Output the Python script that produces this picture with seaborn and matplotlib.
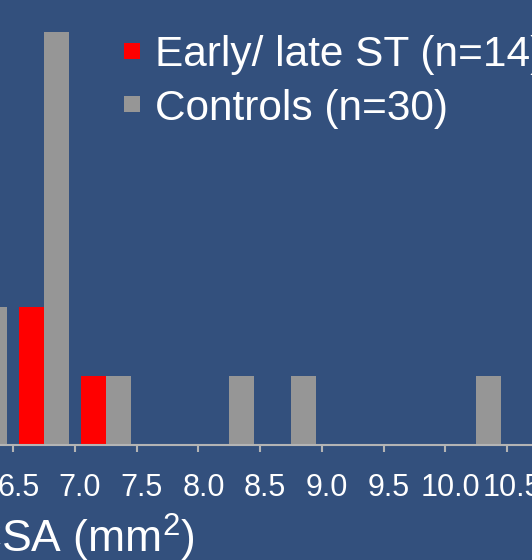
import matplotlib
matplotlib.use('Agg')
import matplotlib.pyplot as plt
from matplotlib.transforms import ScaledTranslation
import pandas as pd
import seaborn as sns

# ==============================================================================
# DADOS (histograma de CSA, bins de 0.5 mm2)
# ==============================================================================
bin_start = [6.0, 6.5, 7.0, 7.5, 8.0, 8.5, 9.0, 9.5, 10.0]
early_late_counts = [0, 2, 1, 0, 0, 0, 0, 0, 0]
control_counts = [2, 6, 1, 0, 1, 1, 0, 0, 1]
group_names = ['Early/ late ST (n=14)', 'Controls (n=30)']
tick_values = [6.0, 6.5, 7.0, 7.5, 8.0, 8.5, 9.0, 9.5, 10.0, 10.5, 11.0]
tick_labels = ['6.0', '6.5', '7.0', '7.5', '8.0', '8.5', '9.0', '9.5', '10.0', '10.5', '11.0']

BG = '#33507d'
AXIS_GREY = '#b4b4b4'


def main():
    sns.set_theme(style='white')
    plt.rcParams['font.family'] = ['Liberation Sans', 'DejaVu Sans']
    plt.rcParams['mathtext.default'] = 'regular'

    # tabela longa para o seaborn
    rows = []
    for start, e, c in zip(bin_start, early_late_counts, control_counts):
        rows.append({'csa': start + 0.25, 'count': e, 'group': group_names[0]})
        rows.append({'csa': start + 0.25, 'count': c, 'group': group_names[1]})
    df = pd.DataFrame(rows)

    fig = plt.figure(figsize=(5.32, 5.60), dpi=100)
    fig.patch.set_facecolor(BG)
    ax = fig.add_axes([0, 115 / 560, 1, 445 / 560])
    ax.set_facecolor(BG)

    sns.barplot(data=df, x='csa', y='count', hue='group', hue_order=group_names,
                palette=['#ff0000', '#969696'], native_scale=True, dodge=True,
                width=0.81, errorbar=None, linewidth=0, saturation=1, ax=ax)

    # eixos
    for side in ['left', 'top', 'right']:
        ax.spines[side].set_visible(False)
    ax.spines['bottom'].set_color(AXIS_GREY)
    ax.spines['bottom'].set_linewidth(1.5)
    ax.set_yticks([])
    ax.set_xticks(tick_values, tick_labels)
    ax.tick_params(axis='x', bottom=True, direction='out', length=5, width=1.5,
                   color=AXIS_GREY, labelcolor='white', labelsize=22, pad=15)
    offset = ScaledTranslation(5 / 100, 0, fig.dpi_scale_trans)
    for lab in ax.get_xticklabels():
        lab.set_transform(lab.get_transform() + offset)

    # recorte igual ao da imagem original
    ax.set_xlim(6.392, 10.703)
    ax.set_ylim(0, 6.47)

    ax.set_ylabel('')
    ax.set_xlabel('CSA (mm$^2$)', fontsize=32, color='white')
    ax.xaxis.label.set_horizontalalignment('right')
    ax.xaxis.label.set_verticalalignment('baseline')
    ax.xaxis.set_label_coords(195 / 532, -108 / 445)

    # legenda
    sns.move_legend(ax, 'upper left', bbox_to_anchor=(124 / 532, 1 - 35 / 445),
                    frameon=False, title=None, fontsize=30.5, handlelength=0.378,
                    handleheight=0.2, handletextpad=0.35, labelspacing=0.32,
                    borderpad=0, borderaxespad=0)
    for t in ax.get_legend().get_texts():
        t.set_color('white')

    fig.savefig('out.png', dpi=100, facecolor=BG)
    plt.close(fig)


if __name__ == '__main__':
    main()
